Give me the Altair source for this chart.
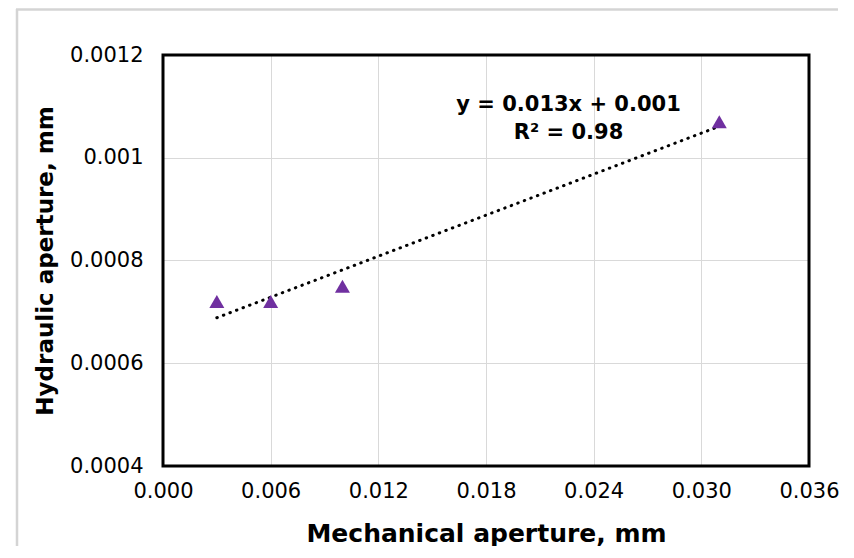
import altair as alt
import pandas as pd

# data
mech = [0.003, 0.006, 0.010, 0.031]
hyd = [0.00072, 0.00072, 0.00075, 0.00107]
x_ticks = [0.000, 0.006, 0.012, 0.018, 0.024, 0.030, 0.036]
y_ticks = [0.0004, 0.0006, 0.0008, 0.0010, 0.0012]
eq_text = ["y = 0.013x + 0.001", "R² = 0.98"]

# annotation placement (styling)
ann_x = [0.0226, 0.0226]
ann_y = [0.0010916, 0.0010365]

df = pd.DataFrame({"x": mech, "y": hyd})
ann = pd.DataFrame({"text": eq_text, "x": ann_x, "y": ann_y})

FONT = "DejaVu Sans"
W, H = 646, 411

xscale = alt.Scale(domain=[0, 0.036], nice=False, zero=False)
yscale = alt.Scale(domain=[0.0004, 0.0012], nice=False, zero=False)

xaxis = alt.Axis(
    values=x_ticks, format=".3f", title="Mechanical aperture, mm",
    labelFont=FONT, labelFontSize=21, labelColor="black", labelPadding=14,
    titleFont=FONT, titleFontSize=25, titleFontWeight="bold", titleColor="black",
    titlePadding=20, grid=True, gridColor="#d9d9d9", gridWidth=1,
    ticks=False, domain=False, labelFlush=False,
)
yaxis = alt.Axis(
    values=y_ticks, format=".4~f", title="Hydraulic aperture, mm",
    labelFont=FONT, labelFontSize=21, labelColor="black", labelPadding=20,
    titleFont=FONT, titleFontSize=23, titleFontWeight="bold", titleColor="black",
    titlePadding=12, grid=True, gridColor="#d9d9d9", gridWidth=1,
    ticks=False, domain=False, labelFlush=False,
)

base = alt.Chart(df)

points = base.mark_point(
    shape="triangle-up", filled=True, size=225, color="#7030A0", opacity=1
).encode(
    x=alt.X("x:Q", scale=xscale, axis=xaxis),
    y=alt.Y("y:Q", scale=yscale, axis=yaxis),
)

trend = base.transform_regression("x", "y").mark_line(
    color="black", strokeDash=[0.5, 6.5], strokeCap="round", strokeWidth=3
).encode(
    x=alt.X("x:Q", scale=xscale),
    y=alt.Y("y:Q", scale=yscale),
)

labels = alt.Chart(ann).mark_text(
    font=FONT, fontSize=21, fontWeight="bold", color="black",
    align="center", baseline="alphabetic",
).encode(
    x=alt.X("x:Q", scale=xscale),
    y=alt.Y("y:Q", scale=yscale),
    text="text:N",
)

one = pd.DataFrame({"k": [0]})
top_border = alt.Chart(one).mark_rule(color="#d4d4d4", strokeWidth=2.5).encode(
    x=alt.value(-147), x2=alt.value(675), y=alt.value(-45.5)
)
left_border = alt.Chart(one).mark_rule(color="#d4d4d4", strokeWidth=2.5).encode(
    x=alt.value(-146), y=alt.value(-46), y2=alt.value(494)
)
frame = alt.Chart(one).mark_rect(
    fillOpacity=0, stroke="black", strokeWidth=3
).encode(
    x=alt.value(0), x2=alt.value(W), y=alt.value(0), y2=alt.value(H)
)

chart = alt.layer(top_border, left_border, trend, points, labels, frame).properties(
    width=W, height=H,
    padding={"left": 155, "top": 47, "right": 30, "bottom": 80},
    autosize=alt.AutoSizeParams(type="none"),
    background="white",
).configure_view(strokeWidth=0)

chart.save("out.html", embed_options={"renderer": "svg", "actions": False})
